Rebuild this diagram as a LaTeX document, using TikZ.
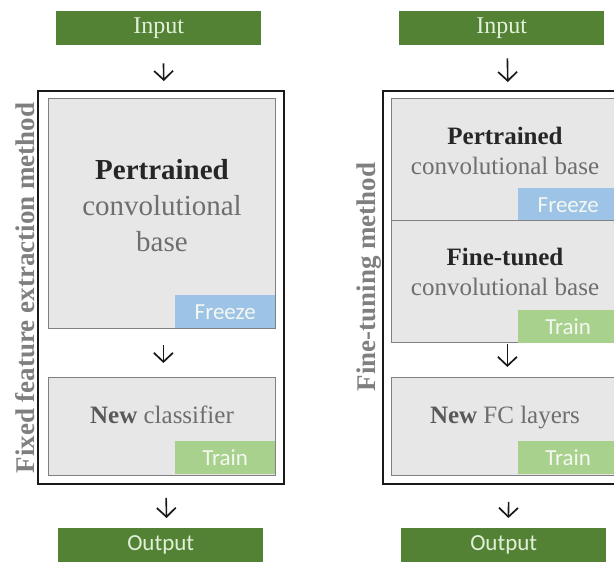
\documentclass[tikz,border=0pt]{standalone}
\usepackage{fontspec}
\setmainfont{Liberation Serif}
\newfontfamily\calibri{Carlito}
\usetikzlibrary{arrows.meta}
\definecolor{iogreen}{HTML}{548235}
\definecolor{iotext}{HTML}{E2F0D9}
\definecolor{basefill}{HTML}{E7E7E7}
\definecolor{baseedge}{HTML}{808080}
\definecolor{frzblue}{HTML}{9DC3E6}
\definecolor{trngreen}{HTML}{A9D18E}
\definecolor{tagtext}{HTML}{F4F8F0}
\definecolor{darktxt}{HTML}{262626}
\definecolor{graytxt}{HTML}{6E6E6E}
\definecolor{newtxt}{HTML}{595959}
\definecolor{sidetxt}{HTML}{7F7F7F}

\begin{document}
\begin{tikzpicture}[x=1pt,y=-1pt,
  iobox/.style={fill=iogreen, text=iotext, minimum width=205pt, minimum height=34pt,
    inner sep=0pt, anchor=north west},
  frame/.style={draw=black!90, line width=1.8pt, inner sep=0pt, anchor=north west},
  basebox/.style={draw=baseedge, line width=0.8pt, fill=basefill, inner sep=0pt, anchor=north west},
  tag/.style={text=tagtext, font=\calibri\fontsize{23}{25}\selectfont,
    minimum width=100pt, minimum height=33pt, inner sep=0pt, anchor=north west},
  freezetag/.style={tag, fill=frzblue},
  traintag/.style={tag, fill=trngreen},
  sidelabel/.style={rotate=90, text=sidetxt, font=\fontsize{27}{29}\selectfont\bfseries},
  arr/.style={line width=1.6pt, draw=black!90,
    -{Straight Barb[length=9pt,width=19pt,line width=1.7pt]}}
]
\useasboundingbox (0,0) rectangle (614,563);
\clip (0,0) rectangle (614,563);

% ---------------- Fixed feature extraction ----------------
\node[iobox, font=\fontsize{24}{26}\selectfont] (lin) at (56,11) {Input};
\node[frame, minimum width=246pt, minimum height=393pt] (lframe) at (37,90) {};
\node[basebox, minimum width=227pt, minimum height=230pt] (lbase) at (48,98) {};
\node[freezetag] (lfrz) at (175,295) {Freeze};
\node[align=center, text=graytxt, font=\fontsize{29}{36}\selectfont] (lbasetxt) at (162,206)
  {{\color{darktxt}\bfseries Pertrained}\\convolutional\\base};
\node[basebox, minimum width=227pt, minimum height=98pt] (lcls) at (48,377) {};
\node[traintag] (ltrn) at (175,441) {Train};
\node[text=graytxt, font=\fontsize{25}{28}\selectfont] (lclstxt) at (162,415)
  {{\color{newtxt}\bfseries New} classifier};
\node[iobox, font=\calibri\fontsize{23}{26}\selectfont] (lout) at (58,528) {Output};
\node[sidelabel] (lside) at (25,288) {Fixed feature extraction method};

\draw[arr, shorten <=18pt, shorten >=9pt] ([xshift=4.5pt]lin.south) -- ([xshift=3pt]lframe.north);
\draw[arr, shorten <=16pt, shorten >=14pt] ([xshift=1.5pt]lbase.south) -- ([xshift=1.5pt]lcls.north);
\draw[arr, shorten <=13pt, shorten >=10pt] ([xshift=5pt]lframe.south) -- ([xshift=6pt]lout.north);

% ---------------- Fine-tuning ----------------
\node[iobox, font=\fontsize{24}{26}\selectfont] (rin) at (399,11) {Input};
\node[frame, minimum width=246pt, minimum height=393pt] (rframe) at (382,90) {};
\node[basebox, minimum width=229pt, minimum height=122pt] (rbase) at (391,98) {};
\node[freezetag] (rfrz) at (518,188) {Freeze};
\node[align=center, text=graytxt, font=\fontsize{25}{30}\selectfont] (rbasetxt) at (505,151)
  {{\color{darktxt}\bfseries Pertrained}\\convolutional base};
\node[basebox, minimum width=229pt, minimum height=122pt] (rtune) at (391,220) {};
\node[traintag] (rtrn1) at (518,310) {Train};
\node[align=center, text=graytxt, font=\fontsize{25}{30}\selectfont] (rtunetxt) at (505,272)
  {{\color{darktxt}\bfseries Fine-tuned}\\convolutional base};
\node[basebox, minimum width=229pt, minimum height=98pt] (rfc) at (391,377) {};
\node[traintag] (rtrn2) at (518,441) {Train};
\node[text=graytxt, font=\fontsize{25}{28}\selectfont] (rfctxt) at (505,418)
  {{\color{newtxt}\bfseries New} FC layers};
\node[iobox, font=\calibri\fontsize{23}{26}\selectfont] (rout) at (401,528) {Output};
\node[sidelabel] (rside) at (369,277) {Fine-tuning method};

\draw[arr, shorten <=13pt, shorten >=8pt] ([xshift=5.5pt]rin.south) -- ([xshift=2pt]rframe.north);
\draw[arr, shorten <=1pt, shorten >=10pt] ([xshift=1.5pt]rtune.south) -- ([xshift=1.5pt]rfc.north);
\draw[arr, shorten <=17pt, shorten >=10pt] ([xshift=3pt]rframe.south) -- ([xshift=4.5pt]rout.north);
\end{tikzpicture}
\end{document}
